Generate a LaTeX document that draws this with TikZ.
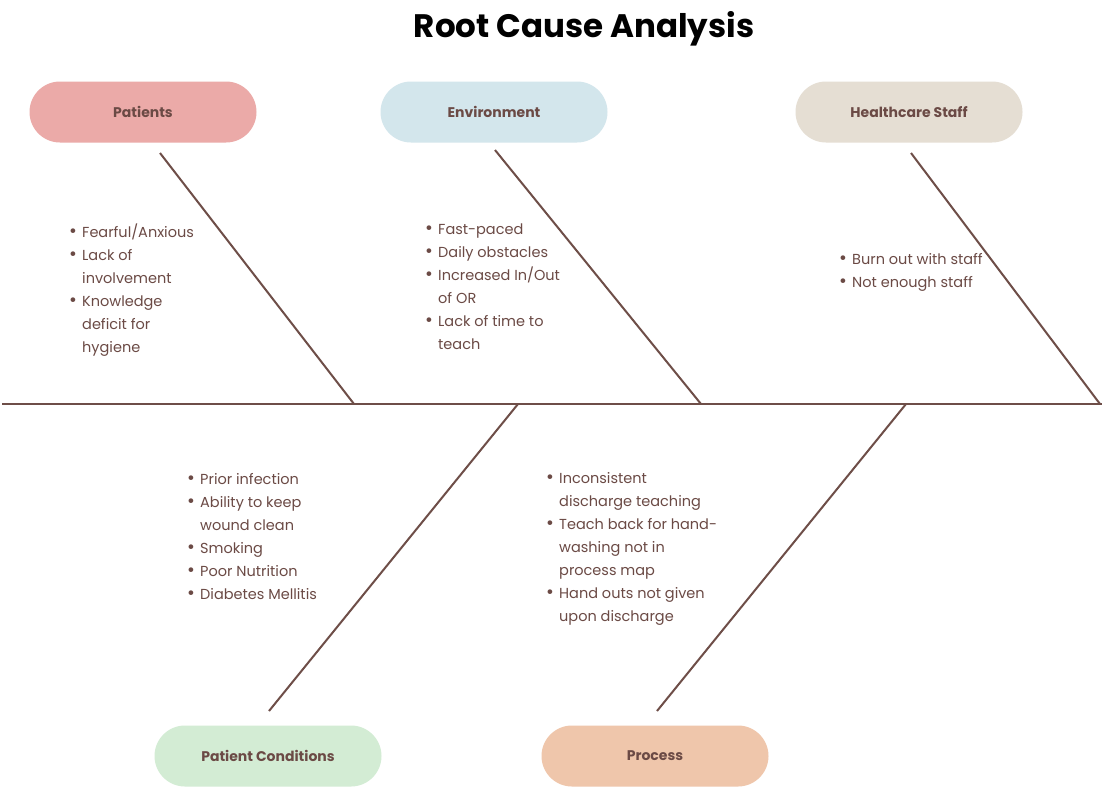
\documentclass[tikz,border=0pt]{standalone}
\usepackage{fontspec}
\setmainfont{Poppins}
\definecolor{ink}{HTML}{6B4A45}
\definecolor{bone}{HTML}{6E4E48}
\definecolor{cPat}{HTML}{EBAAA8}
\definecolor{cEnv}{HTML}{D3E6EC}
\definecolor{cStaff}{HTML}{E5DED3}
\definecolor{cCond}{HTML}{D3ECD4}
\definecolor{cProc}{HTML}{EFC6AB}
\newcommand\bul{\makebox[13pt][l]{{\fontsize{19}{23}\selectfont •}}}
\newcommand\ind{\hspace*{13pt}}
\tikzset{
  pill/.style={rounded corners=30.5pt, minimum width=227pt, minimum height=61pt,
    inner sep=0pt, text=ink, font=\fontsize{14}{16}\selectfont\bfseries},
  bonefill/.style={draw=bone, line width=2pt},
  list/.style={anchor=north west, inner sep=0pt, align=left, text=ink,
    font=\fontsize{14.5}{23}\selectfont}
}
\begin{document}
\begin{tikzpicture}[x=1pt,y=-1pt]
\useasboundingbox[fill=white] (0,0) rectangle (1102,793);
\node[font=\fontsize{32.5}{36}\selectfont\bfseries] (title) at (584,29) {Root Cause Analysis};

% category heads
\node[pill, fill=cPat] (pat) at (143,112) {Patients};
\node[pill, fill=cEnv] (env) at (494,112) {Environment};
\node[pill, fill=cStaff] (staff) at (909,112) {Healthcare Staff};
\node[pill, fill=cCond] (cond) at (268,756) {Patient Conditions};
\node[pill, fill=cProc] (proc) at (655,756) {Process};

% spine and bones
\coordinate (sL) at (2,404);
\coordinate (sR) at (1102,404);
\coordinate (jPat) at (354,404);
\coordinate (jEnv) at (701,404);
\coordinate (jStaff) at (1100,404);
\coordinate (jCond) at (518,404);
\coordinate (jProc) at (906,404);
\coordinate (tPat) at (160,153);
\coordinate (tEnv) at (495,150);
\coordinate (tStaff) at (911,153);
\coordinate (tCond) at (269,711);
\coordinate (tProc) at (657,711);
\draw[bonefill] (sL) -- (sR);
\draw[bonefill] (tPat) -- (jPat);
\draw[bonefill] (tEnv) -- (jEnv);
\draw[bonefill] (tStaff) -- (jStaff);
\draw[bonefill] (tCond) -- (jCond);
\draw[bonefill] (tProc) -- (jProc);

% cause lists
\node[list] (lPat) at (69,224) {\bul Fearful/Anxious\\\bul Lack of\\\ind involvement\\\bul Knowledge\\\ind deficit for\\\ind hygiene};
\node[list] (lEnv) at (425,224) {\bul Fast-paced\\\bul Daily obstacles\\\bul Increased In/Out\\\ind of OR\\\bul Lack of time to\\\ind teach};
\node[list] (lStaff) at (839,253) {\bul Burn out with staff\\\bul Not enough staff};
\node[list] (lCond) at (187,473) {\bul Prior infection\\\bul Ability to keep\\\ind wound clean\\\bul Smoking\\\bul Poor Nutrition\\\bul Diabetes Mellitis};
\node[list] (lProc) at (546,472) {\bul Inconsistent\\\ind discharge teaching\\\bul Teach back for hand-\\\ind washing not in\\\ind process map\\\bul Hand outs not given\\\ind upon discharge};
\end{tikzpicture}
\end{document}
